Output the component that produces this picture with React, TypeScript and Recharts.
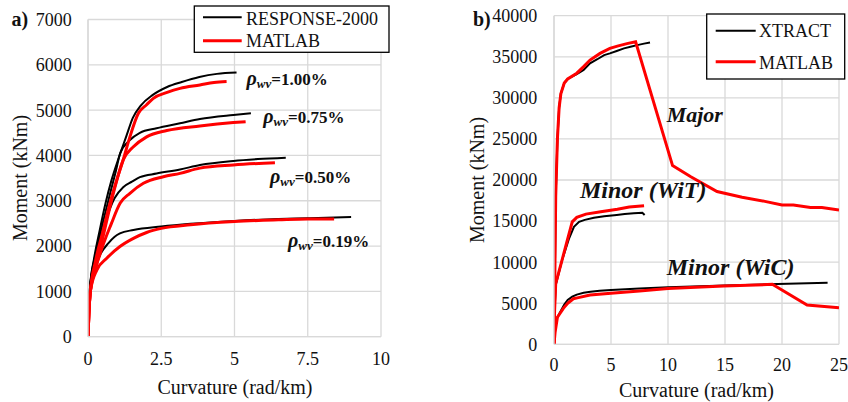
import React from 'react';
import { LineChart, Line, XAxis, YAxis, CartesianGrid } from 'recharts';

type Pt = { x: number; y: number };
const pts = (a: number[][]): Pt[] => a.map(([x, y]) => ({ x, y }));

// ---- Panel a): moment–curvature, RESPONSE-2000 vs MATLAB ----
const aXTicks = [0, 2.5, 5, 7.5, 10];
const aYTicks = [0, 1000, 2000, 3000, 4000, 5000, 6000, 7000];

const r2000_rho100 = pts([[0,0],[0.03,600],[0.07,1100],[0.2,1700],[0.4,2350],[0.6,2950],[0.8,3450],[1.05,3950],[1.3,4410],[1.53,4830],[1.8,5100],[2.2,5330],[2.7,5510],[3.2,5620],[3.8,5730],[4.4,5800],[5.07,5830]]);
const r2000_rho075 = pts([[0,0],[0.03,600],[0.07,1100],[0.25,1800],[0.5,2500],[0.75,3150],[0.95,3650],[1.1,4050],[1.43,4340],[1.77,4500],[2.34,4600],[3.14,4710],[3.82,4805],[4.96,4893],[5.56,4930]]);
const r2000_rho050 = pts([[0,0],[0.03,600],[0.07,1100],[0.3,1850],[0.6,2550],[0.9,3050],[1.2,3300],[1.5,3420],[1.77,3520],[2.34,3600],[3.14,3690],[3.82,3790],[4.96,3880],[5.8,3920],[6.75,3950]]);
const r2000_rho019 = pts([[0,0],[0.03,600],[0.07,1100],[0.25,1550],[0.45,1850],[0.69,2060],[0.9,2200],[1.09,2280],[1.55,2355],[2.5,2430],[3.5,2490],[5,2555],[6.5,2600],[7.5,2615],[8.98,2640]]);

const matA_rho100 = pts([[0,0],[0.03,500],[0.08,1000],[0.25,1650],[0.5,2300],[0.75,2950],[1.0,3500],[1.2,3900],[1.43,4410],[1.72,4930],[2.0,5120],[2.23,5260],[2.7,5390],[3.14,5480],[3.82,5555],[4.3,5610],[4.73,5630]]);
const matA_rho075 = pts([[0,0],[0.03,500],[0.08,1000],[0.3,1600],[0.6,2450],[0.9,3250],[1.2,3900],[1.55,4190],[2.0,4410],[2.69,4550],[3.82,4650],[4.96,4725],[5.38,4745]]);
const matA_rho050 = pts([[0,0],[0.03,500],[0.08,1000],[0.4,1800],[0.8,2500],[1.1,2950],[1.43,3165],[1.89,3385],[2.57,3530],[3.14,3605],[3.82,3720],[4.96,3790],[6.38,3840]]);
const matA_rho019 = pts([[0,0],[0.03,500],[0.08,1000],[0.3,1470],[0.64,1730],[1.09,1990],[1.55,2170],[2.0,2300],[2.5,2390],[3.5,2470],[5,2540],[6.5,2580],[7.5,2600],[8.4,2600]]);

// ---- Panel b): XTRACT vs MATLAB ----
const bXTicks = [0, 5, 10, 15, 20, 25];
const bYTicks = [0, 5000, 10000, 15000, 20000, 25000, 30000, 35000, 40000];

const xtract_major = pts([[0,0],[0.08,9000],[0.15,18000],[0.3,25000],[0.45,28800],[0.6,30500],[0.9,31800],[1.2,32300],[2.0,32900],[2.6,33400],[3.16,34200],[3.8,34700],[4.4,35200],[4.9,35410],[5.5,35700],[6.14,36020],[6.8,36250],[7.3,36420],[7.9,36600],[8.42,36750]]);
const matlab_major = pts([[0,0],[0.08,9000],[0.15,18000],[0.3,25000],[0.45,28800],[0.6,30500],[0.9,31800],[1.2,32300],[2.0,33000],[2.6,33800],[3.16,34600],[4.04,35410],[4.9,36020],[5.56,36300],[6.4,36600],[7.16,36830],[10.4,21750],[12.0,20400],[14.3,18600],[16.5,17900],[18.5,17400],[20.0,16950],[21.0,16950],[22.5,16650],[23.5,16650],[25.0,16350]]);

const xtract_wit = pts([[0,0],[0.05,4000],[0.15,7200],[0.7,10200],[1.3,12800],[1.75,14300],[2.2,14900],[2.7,15150],[3.5,15400],[4.4,15600],[5.5,15750],[6.2,15860],[7.0,15950],[7.75,16020],[7.95,15750]]);
const matlab_wit = pts([[0,0],[0.05,4000],[0.15,7400],[0.6,9700],[1.1,12300],[1.6,14900],[2.0,15450],[2.8,15850],[4.1,16140],[5.56,16430],[6.6,16700],[7.9,16870]]);

const xtract_wic = pts([[0,0],[0.05,1700],[0.12,2800],[0.5,3800],[0.9,4850],[1.2,5400],[1.6,5800],[2.0,6050],[2.6,6270],[3.2,6400],[4.0,6520],[5.0,6610],[7.5,6780],[10,6940],[15,7150],[19.6,7340],[24,7500]]);
const matlab_wic = pts([[0,0],[0.1,1500],[0.3,3300],[0.82,4380],[1.2,5000],[1.7,5550],[2.04,5650],[3.16,6000],[5.0,6200],[7.5,6500],[10,6800],[14.9,7090],[19.15,7300],[22.2,4780],[25,4450]]);

const SERIF = "'Liberation Serif', 'Times New Roman', serif";
const GRID = '#d9d9d9';
const BLACK = '#000000';
const RED = '#ff0000';

const tickStyle = { fontSize: 18, fill: '#111', fontFamily: SERIF };

function Rho({ x, y, value }: { x: number; y: number; value: string }) {
  return (
    <text x={x} y={y} fontFamily={SERIF} fontWeight="bold" fontSize={17} fill="#111">
      <tspan fontStyle="italic" fontSize={20}>ρ</tspan>
      <tspan fontStyle="italic" fontSize={13} dy={3}>wv</tspan>
      <tspan dy={-3}>={value}</tspan>
    </text>
  );
}

export default function App() {
  return (
    <div style={{ position: 'absolute', left: 0, top: 0, width: 848, height: 402, background: '#fff', overflow: 'hidden' }}>
      <div style={{ position: 'absolute', left: 0, top: 0 }}>
        <LineChart width={424} height={402} margin={{ top: 19.5, right: 43, left: 28, bottom: 35.3 }}>
          <CartesianGrid stroke={GRID} strokeWidth={1.3} />
          <XAxis type="number" dataKey="x" domain={[0, 10]} ticks={aXTicks} allowDataOverflow
            height={30} tickLine={false} tickSize={0} tickMargin={15.5}
            axisLine={{ stroke: GRID, strokeWidth: 1.3 }} tick={tickStyle} />
          <YAxis type="number" dataKey="y" domain={[0, 7000]} ticks={aYTicks} allowDataOverflow
            width={60} tickLine={false} tickSize={0} tickMargin={16.3}
            axisLine={{ stroke: GRID, strokeWidth: 1.3 }} tick={tickStyle} />
          {[r2000_rho100, r2000_rho075, r2000_rho050, r2000_rho019].map((d, i) => (
            <Line key={'r' + i} data={d} dataKey="y" type="monotone" stroke={BLACK} strokeWidth={2}
              dot={false} isAnimationActive={false} />
          ))}
          {[matA_rho100, matA_rho075, matA_rho050, matA_rho019].map((d, i) => (
            <Line key={'m' + i} data={d} dataKey="y" type="monotone" stroke={RED} strokeWidth={3}
              dot={false} isAnimationActive={false} />
          ))}
        </LineChart>
      </div>
      <div style={{ position: 'absolute', left: 424, top: 0 }}>
        <LineChart width={424} height={402} margin={{ top: 15.7, right: 9, left: 70, bottom: 27.7 }}>
          <CartesianGrid stroke={GRID} strokeWidth={1.3} />
          <XAxis type="number" dataKey="x" domain={[0, 25]} ticks={bXTicks} allowDataOverflow
            height={30} tickLine={false} tickSize={0} tickMargin={13.6}
            axisLine={{ stroke: GRID, strokeWidth: 1.3 }} tick={tickStyle} />
          <YAxis type="number" dataKey="y" domain={[0, 40000]} ticks={bYTicks} allowDataOverflow
            width={60} tickLine={false} tickSize={0} tickMargin={16.7}
            axisLine={{ stroke: GRID, strokeWidth: 1.3 }} tick={tickStyle} />
          {[xtract_major, xtract_wit, xtract_wic].map((d, i) => (
            <Line key={'x' + i} data={d} dataKey="y" type="linear" stroke={BLACK} strokeWidth={2}
              dot={false} isAnimationActive={false} />
          ))}
          {[matlab_major, matlab_wit, matlab_wic].map((d, i) => (
            <Line key={'mb' + i} data={d} dataKey="y" type="linear" stroke={RED} strokeWidth={3}
              dot={false} isAnimationActive={false} />
          ))}
        </LineChart>
      </div>

      <svg width={848} height={402} style={{ position: 'absolute', left: 0, top: 0, pointerEvents: 'none' }}>
        {/* panel letters */}
        <text x={11.5} y={26} fontFamily={SERIF} fontWeight="bold" fontSize={20} fill="#111">a)</text>
        <text x={473} y={26} fontFamily={SERIF} fontWeight="bold" fontSize={20} fill="#111">b)</text>

        {/* axis titles */}
        <text x={235} y={394} textAnchor="middle" fontFamily={SERIF} fontSize={20} fill="#111">Curvature (rad/km)</text>
        <text x={696.5} y={396.5} textAnchor="middle" fontFamily={SERIF} fontSize={20} fill="#111">Curvature (rad/km)</text>
        <text transform="translate(27.3,178) rotate(-90)" textAnchor="middle" fontFamily={SERIF} fontSize={20} fill="#111">Moment (kNm)</text>
        <text transform="translate(484,180) rotate(-90)" textAnchor="middle" fontFamily={SERIF} fontSize={20} fill="#111">Moment (kNm)</text>

        {/* reinforcement ratio labels */}
        <Rho x={246.5} y={85} value="1.00%" />
        <Rho x={263.3} y={123.3} value="0.75%" />
        <Rho x={270} y={182.5} value="0.50%" />
        <Rho x={288} y={246.5} value="0.19%" />

        {/* bending axis labels */}
        <text x={666.7} y={121.7} fontFamily={SERIF} fontWeight="bold" fontStyle="italic" fontSize={22} fill="#111">Major</text>
        <text x={580} y={198.3} fontFamily={SERIF} fontWeight="bold" fontStyle="italic" fontSize={24} fill="#111">Minor (WiT)</text>
        <text x={666.7} y={275} fontFamily={SERIF} fontWeight="bold" fontStyle="italic" fontSize={24} fill="#111">Minor (WiC)</text>

        {/* legend a) */}
        <rect x={194.3} y={6} width={194.7} height={46.3} fill="#fff" stroke="#000" strokeWidth={1.3} />
        <line x1={203} y1={17.3} x2={241.7} y2={17.3} stroke={BLACK} strokeWidth={2} />
        <text x={246} y={24.5} fontFamily={SERIF} fontSize={18} fill="#111">RESPONSE-2000</text>
        <line x1={203} y1={40.7} x2={241.7} y2={40.7} stroke={RED} strokeWidth={3} />
        <text x={246} y={47} fontFamily={SERIF} fontSize={18} fill="#111">MATLAB</text>

        {/* legend b) */}
        <rect x={706.7} y={14} width={138} height={65} fill="#fff" stroke="#000" strokeWidth={1.3} />
        <line x1={715.7} y1={30.7} x2={755.7} y2={30.7} stroke={BLACK} strokeWidth={2} />
        <text x={759} y={36.5} fontFamily={SERIF} fontSize={18} fill="#111">XTRACT</text>
        <line x1={715.7} y1={61.7} x2={755.7} y2={61.7} stroke={RED} strokeWidth={3} />
        <text x={759} y={69} fontFamily={SERIF} fontSize={18} fill="#111">MATLAB</text>
      </svg>
    </div>
  );
}
